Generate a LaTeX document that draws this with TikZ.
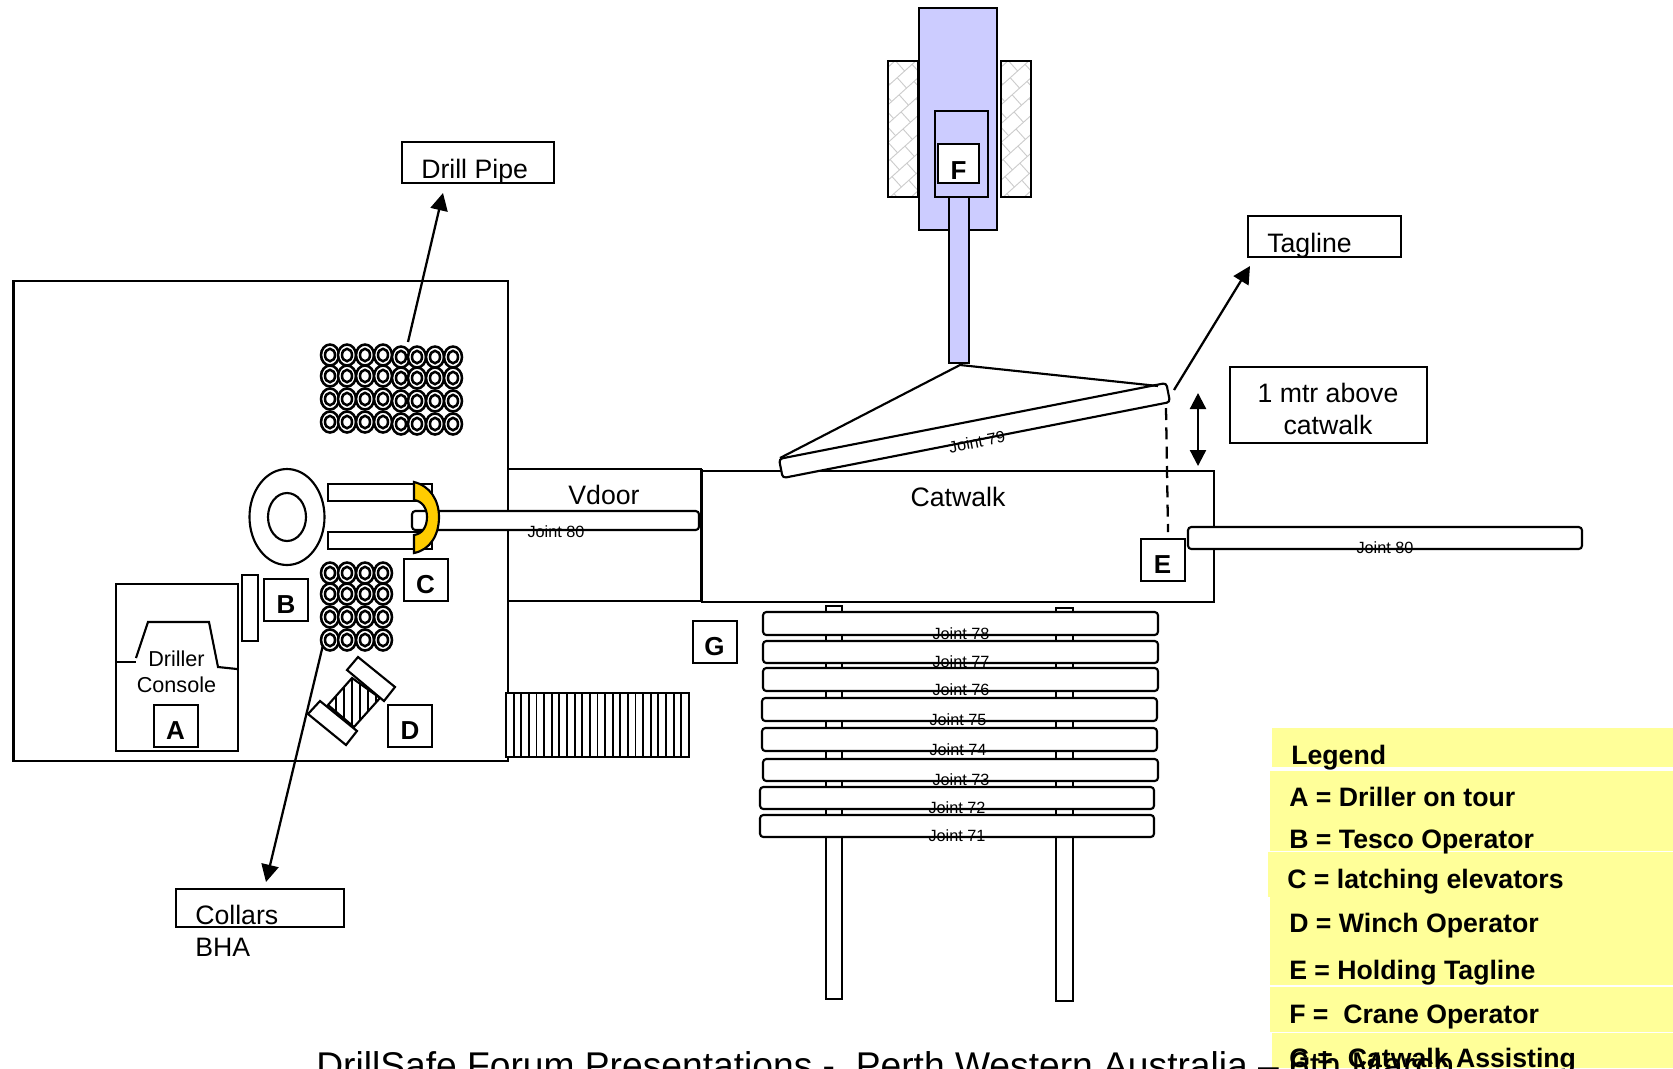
\documentclass[tikz,border=0pt]{standalone}
\usepackage{fontspec}
\setmainfont{Liberation Sans}
\usetikzlibrary{arrows.meta}
\definecolor{crane}{HTML}{CCCCFF}
\definecolor{legendy}{HTML}{FFFF99}
\definecolor{gold}{HTML}{FFCC00}
\newcommand{\tagtxt}[1]{\raisebox{-10.5pt}[0pt][0pt]{#1}}
\newcommand{\diagbricks}[2]{%
  \begin{scope}
  \clip (#1,61) rectangle (#2,197);
  \begin{scope}[shift={({(#1+#2)/2},129)},rotate=42]
  \foreach \r in {-6,...,6}{
    \draw[black!20,line width=0.7pt] (-130,{\r*14}) -- (130,{\r*14});
    \foreach \c in {-6,...,6}
      \draw[black!20,line width=0.7pt] ({\c*20+mod(\r+6,2)*10},{\r*14}) -- ({\c*20+mod(\r+6,2)*10},{(\r+1)*14});
  }
  \end{scope}
  \end{scope}
  \draw[ln] (#1,61) rectangle (#2,197);
}
\tikzset{
  ln/.style={draw=black,line width=1.6pt},
  box/.style={ln,fill=white},
  tag/.style={draw=black,line width=1.5pt,fill=white,minimum width=33pt,minimum height=31.5pt,inner sep=0pt,font=\bfseries\fontsize{19.5}{19.5}\selectfont},
  pipe/.style={ln,fill=white,rounded corners=2.5pt},
  jt/.style={inner sep=0pt,font=\fontsize{12.2}{13}\selectfont},
  lbl/.style={inner sep=0pt,font=\fontsize{20}{23}\selectfont},
  leg/.style={inner sep=0pt,anchor=base west,font=\bfseries\fontsize{20}{23}\selectfont},
  arr/.style={line width=1.7pt,-{Triangle[length=13pt,width=13pt]}},
  darr/.style={line width=1.7pt,{Triangle[length=12pt,width=12pt]}-{Triangle[length=12pt,width=12pt]}},
  tube/.pic={\draw[line width=1.9pt,fill=white] (0,0) ellipse (9 and 10.5);
             \draw[line width=1.9pt,fill=white] (0,0) ellipse (5 and 6.2);}
}
\begin{document}
\begin{tikzpicture}[x=0.75pt,y=-0.75pt]
\useasboundingbox (0,0) rectangle (1673,1068);
\clip (0,0) rectangle (1673,1068);
% platform
\draw[ln] (13.5,281) rectangle (508,761);
\draw[box] (508,469) rectangle (701,601);
\draw[box] (702,471) rectangle (1214,602);
\draw[line width=2.4pt] (701.5,469) -- (701.5,602);
\node[lbl] (vdoor) at (604,495) {Vdoor};
\node[lbl] (catwalk) at (958,497) {Catwalk};
% stair
\draw[box] (506,693) rectangle (689,757);
\foreach \i in {1,...,23} \draw[line width=1.4pt] ({506+\i*7.62},693) -- ({506+\i*7.62},757);
\draw[line width=2.2pt] (506,693) -- (506,757);
% driller
\draw[box] (116,584) rectangle (238,751);
\draw[ln] (117,662) -- (136,662);
\draw[ln] (136,658) -- (148,622) -- (209,622) -- (218,667) -- (237,669);
\node[inner sep=0pt,font=\fontsize{16.2}{18}\selectfont] (driller) at (176.5,659) {Driller};
\node[inner sep=0pt,font=\fontsize{16.2}{18}\selectfont] (console) at (176.5,685) {Console};
\draw[box] (242,575) rectangle (258,641);
% winch
\begin{scope}
\clip (352,678) -- (380,698) -- (354,727) -- (328,705) -- cycle;
\foreach \xx in {328,336,...,384} \draw[line width=1.3pt] (\xx,670) -- (\xx,735);
\end{scope}
\draw[ln] (352,678) -- (380,698) -- (354,727) -- (328,705) -- cycle;
\draw[box] (358,657) -- (395,687) -- (384,701) -- (347,670) -- cycle;
\draw[box] (320,701) -- (357,731) -- (346,745) -- (308,714) -- cycle;
% tubes
\foreach \x/\d in {330/0,347/0,365/0,383/0,401/2,417/2,435/2,453/2}
  \foreach \y in {355,376,399,422} \pic at (\x,\y+\d) {tube};
\foreach \x in {330,347,365,383}
  \foreach \y in {573,594,617,640} \pic at (\x,\y) {tube};
% rotary
\draw[box] (287,517) ellipse (37.5 and 48);
\draw[ln] (287,517) ellipse (19 and 24);
\draw[box] (328,484) rectangle (432,501);
\draw[box] (328,532) rectangle (432,549);
\draw[pipe] (412,511) rectangle (699,530);
\node[jt] (j80a) at (556,532) {Joint 80};
\draw[ln,fill=gold] (414,482) .. controls (430,486) and (439,500) .. (439,517) .. controls (439,535) and (430,550) .. (414,553) -- (414,535) .. controls (422,534) and (427,527) .. (427,517) .. controls (427,508) and (422,501) .. (414,500) -- cycle;
% tags
\node[tag] (A) at (175.5,725.5) {\tagtxt{A}};
\node[tag] (B) at (286,599.5) {\tagtxt{B}};
\node[tag] (C) at (425.5,579.5) {\tagtxt{C}};
\node[tag] (D) at (410,725.5) {\tagtxt{D}};
\node[tag] (E) at (1162.5,559.5) {\tagtxt{E}};
\node[tag] (G) at (714.5,641.5) {\tagtxt{G}};
% collars
\node[draw,line width=1.5pt,minimum width=126pt,minimum height=29pt,inner sep=0pt] (collars) at (259.5,908) {};
\node[lbl,anchor=base west] (collarstxt) at (195,924) {Collars};
\node[lbl,anchor=base west] (bha) at (195,956) {BHA};
\coordinate (colfrom) at (323,645);
\draw[arr] (colfrom) -- (266,882);
% drill pipe
\node[draw,line width=1.5pt,minimum width=114pt,minimum height=30.5pt,inner sep=0pt] (dp) at (478,162.5) {};
\node[lbl,anchor=base west] (dptxt) at (421,178) {Drill Pipe};
\coordinate (dpfrom) at (408,342);
\draw[arr] (dpfrom) -- (443,193);
% tagline
\node[draw,line width=1.5pt,minimum width=114.5pt,minimum height=30.5pt,inner sep=0pt] (tl) at (1324.5,236.5) {};
\node[lbl,anchor=base west] (tltxt) at (1267,252) {Tagline};
\coordinate (tlfrom) at (1174,390);
\draw[arr] (tlfrom) -- (1250,266);
% 1 mtr
\node[draw,line width=1.5pt,minimum width=147.5pt,minimum height=57pt,inner sep=0pt] (mtr) at (1328.5,404.5) {};
\node[lbl,anchor=base] (mtr1) at (1328,402) {1 mtr above};
\node[lbl,anchor=base] (mtr2) at (1328,434) {catwalk};
\coordinate (da) at (1198,393);
\coordinate (db) at (1198,466);
\draw[darr] (da) -- (db);
% joint 79
\coordinate (hook) at (960,365);
\coordinate (hl) at (780,458);
\coordinate (hr) at (1158,386);
\node[pipe,rotate=11.1,minimum width=296pt,minimum height=14.6pt,inner sep=0pt] (j79) at (974.5,430.5) {};
\draw[ln] (hl) -- (hook) -- (hr);
\node[jt,rotate=11.1] (j79t) at (977,442) {Joint 79};
\coordinate (dsa) at (1166,408);
\coordinate (dsb) at (1168,532);
\draw[line width=1.7pt,dash pattern=on 9pt off 5.5pt] (dsa) -- (dsb);
% joint 80 right
\draw[pipe] (1188,527) rectangle (1582,549);
\node[jt] (j80b) at (1385,548) {Joint 80};
% legs
\draw[box] (826,606) rectangle (842,999);
\draw[box] (1056,608) rectangle (1073,1001);
% rack
\foreach \a/\b/\yt/\yb/\lx/\n in {
  763/1158/612/635/961/78,
  763/1158/641/663/961/77,
  763/1158/668/691/961/76,
  762/1157/698/721/958/75,
  762/1157/728/751/958/74,
  763/1158/759/781/961/73,
  760/1154/787/809/957/72,
  760/1154/815/837/957/71}{
  \draw[pipe] (\a,\yt) rectangle (\b,\yb);
  \node[jt] at (\lx,\yb-1) {Joint \n};
}
% crane
\diagbricks{888}{918}
\diagbricks{1001}{1031}
\draw[ln,fill=crane] (919,8) rectangle (997,230);
\draw[ln,fill=crane] (935,111) rectangle (988,197);
\draw[ln,fill=crane] (949,197) rectangle (969,363);
\node[tag,minimum width=30.5pt,minimum height=29pt] (F) at (958.5,163.5) {\raisebox{-12pt}[0pt][0pt]{F}};
% legend
\fill[legendy] (1272,728) rectangle (1673,767);
\fill[legendy] (1270,771) rectangle (1673,851);
\fill[legendy] (1268,852) rectangle (1673,897);
\fill[legendy] (1270,897) rectangle (1673,985);
\fill[legendy] (1270,987) rectangle (1673,1032);
\fill[legendy] (1272,1033) rectangle (1673,1068);
\node[leg] (l0) at (1291,764) {Legend};
\node[leg] (la) at (1289,806) {A = Driller on tour};
\node[leg] (lb) at (1289,848) {B = Tesco Operator};
\node[leg] (lc) at (1287,888) {C = latching elevators};
\node[leg] (ld) at (1289,932) {D = Winch Operator};
\node[leg] (le) at (1289,979) {E = Holding Tagline};
\node[leg] (lf) at (1289,1023) {F =\ \ Crane Operator};
\node[leg] (lg) at (1289,1067) {G =\ \ Catwalk Assisting};
\node[inner sep=0pt,anchor=base west,font=\fontsize{27.9}{30}\selectfont] (foot) at (316,1078) {DrillSafe Forum Presentations -\ \ Perth Western Australia -- 6th March};
\end{tikzpicture}
\end{document}
